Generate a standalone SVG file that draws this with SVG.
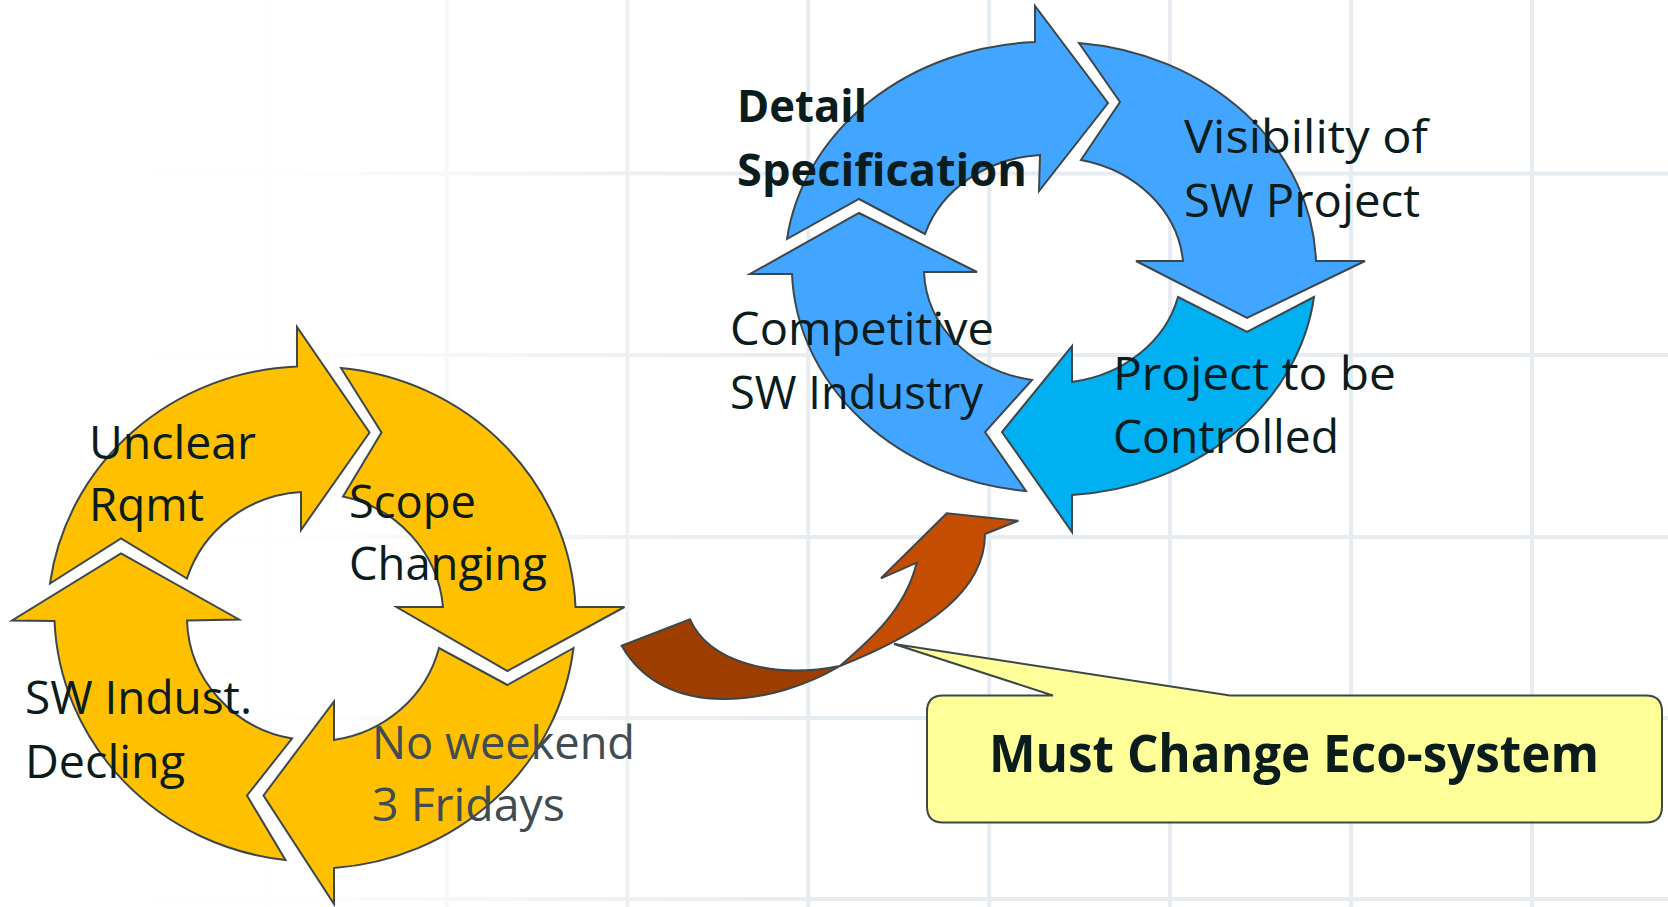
<svg xmlns="http://www.w3.org/2000/svg" width="1668" height="907" viewBox="0 0 1668 907">
<defs>
<linearGradient id="fade" gradientUnits="userSpaceOnUse" x1="0" y1="0" x2="820" y2="0">
<stop offset="0" stop-color="#ffffff" stop-opacity="1"/>
<stop offset="0.35" stop-color="#ffffff" stop-opacity="0.95"/>
<stop offset="0.55" stop-color="#ffffff" stop-opacity="0.6"/>
<stop offset="0.77" stop-color="#ffffff" stop-opacity="0.25"/>
<stop offset="1" stop-color="#ffffff" stop-opacity="0"/>
</linearGradient>
<style>
.grid line{stroke:#e7ecf0;stroke-width:4}
.sh{stroke:#3c474c;stroke-width:2;stroke-linejoin:miter}
.yel{fill:#ffc000}
.blu{fill:#42a5ff}
.cya{fill:#00b0f0}
.t{font-family:"Open Sans","Liberation Sans",sans-serif;fill:#0a1c1c}
.ty{font-size:45px}
.tb{font-size:46px}
.gray{fill:#404b52}
.bold{font-weight:bold}
</style>
</defs>
<rect width="1668" height="907" fill="#ffffff"/>
<g class="grid">
<line x1="265.6" y1="0" x2="265.6" y2="907"/>
<line x1="446.5" y1="0" x2="446.5" y2="907"/>
<line x1="627.4" y1="0" x2="627.4" y2="907"/>
<line x1="808.3" y1="0" x2="808.3" y2="907"/>
<line x1="989.2" y1="0" x2="989.2" y2="907"/>
<line x1="1170.1" y1="0" x2="1170.1" y2="907"/>
<line x1="1351" y1="0" x2="1351" y2="907"/>
<line x1="1531.9" y1="0" x2="1531.9" y2="907"/>
<line x1="0" y1="173.5" x2="1668" y2="173.5"/>
<line x1="0" y1="355" x2="1668" y2="355"/>
<line x1="0" y1="537" x2="1668" y2="537"/>
<line x1="0" y1="718" x2="1668" y2="718"/>
<line x1="0" y1="899" x2="1668" y2="899"/>
</g>
<rect width="1668" height="907" fill="url(#fade)"/>

<g id="y-unclear">
<path class="sh yel" d="M 50,583.5 L 121,538.5 L 187,578.5 A 128,124 0 0 1 301,492 L 301,530 L 369.5,432.5 L 297,327 L 297,366.5 A 260.5,251 0 0 0 50,583.5 Z"/>
<text class="t ty" x="89" y="458.5" textLength="167" lengthAdjust="spacingAndGlyphs">Unclear</text>
<text class="t ty" x="89" y="521" textLength="115" lengthAdjust="spacingAndGlyphs">Rqmt</text>
</g>
<g id="y-scope">
<path class="sh yel" d="M 341,368 L 381.5,432.5 L 343,496.5 A 128,124 0 0 1 443,607 L 396.5,607 L 507.5,671 L 624.5,607 L 575.5,607 A 260.5,251 0 0 0 341,368 Z"/>
<text class="t ty" x="349" y="517.5" textLength="127" lengthAdjust="spacingAndGlyphs">Scope</text>
<text class="t ty" x="349" y="579.5" textLength="198" lengthAdjust="spacingAndGlyphs">Changing</text>
</g>
<g id="y-weekend">
<path class="sh yel" d="M 573.5,648 L 507.5,685 L 439,648 A 128,124 0 0 1 334,740 L 334,701.5 L 263.5,795.5 L 334,904 L 334,868 A 260.5,251 0 0 0 573.5,648 Z"/>
<text class="t ty gray" x="372" y="759" textLength="263" lengthAdjust="spacingAndGlyphs">No weekend</text>
<text class="t ty gray" x="372" y="821" textLength="193" lengthAdjust="spacingAndGlyphs">3 Fridays</text>
</g>
<g id="y-indust">
<path class="sh yel" d="M 285.5,860 L 247,795.5 L 292,738.5 A 128,124 0 0 1 187,620.5 L 239,619.5 L 121,553.5 L 12,620.5 L 54.5,621 A 260.5,251 0 0 0 285.5,860 Z"/>
<text class="t ty" x="25" y="713.5" textLength="227" lengthAdjust="spacingAndGlyphs">SW Indust.</text>
<text class="t ty" x="25" y="777.5" textLength="160" lengthAdjust="spacingAndGlyphs">Decling</text>
</g>

<g id="b-detail">
<path class="sh blu" d="M 787,239 L 859,199 L 925,234 A 129.5,113.5 0 0 1 1040,155 L 1039,191 L 1108,103 L 1035,6 L 1035,42 A 262,226.5 0 0 0 787,239 Z"/>
<text class="t bold" font-size="44" x="737" y="121.7" textLength="130" lengthAdjust="spacingAndGlyphs">Detail</text>
<text class="t bold" font-size="44" x="737" y="186" textLength="290" lengthAdjust="spacingAndGlyphs">Specification</text>
</g>
<g id="b-visibility">
<path class="sh blu" d="M 1079,43 L 1120,102 L 1081,160 A 129.5,113.5 0 0 1 1183,261 L 1136,261 L 1247,318 L 1365,261 L 1316,261 A 262,226.5 0 0 0 1079,43 Z"/>
<text class="t tb" x="1184" y="153" textLength="244" lengthAdjust="spacingAndGlyphs">Visibility of</text>
<text class="t tb" x="1184" y="217" textLength="236" lengthAdjust="spacingAndGlyphs">SW Project</text>
</g>
<g id="b-controlled">
<path class="sh cya" d="M 1314,297 L 1247,332 L 1178,297 A 129.5,113.5 0 0 1 1072,382 L 1072,346 L 1002,432 L 1072,532 L 1072,495 A 262,226.5 0 0 0 1314,297 Z"/>
<text class="t tb" x="1113" y="390" textLength="283" lengthAdjust="spacingAndGlyphs">Project to be</text>
<text class="t tb" x="1113" y="453.3" textLength="226" lengthAdjust="spacingAndGlyphs">Controlled</text>
</g>
<g id="b-competitive">
<path class="sh blu" d="M 1026,491 L 985,432 L 1032,380 A 129.5,113.5 0 0 1 924,272 L 977,272 L 859,213 L 750,274 L 792,274 A 262,226.5 0 0 0 1026,491 Z"/>
<text class="t tb" x="730" y="345" textLength="264" lengthAdjust="spacingAndGlyphs">Competitive</text>
<text class="t tb" x="730" y="409.3" textLength="253" lengthAdjust="spacingAndGlyphs">SW Industry</text>
</g>

<g id="connectors">
<path class="sh" fill="#9e3d00" d="M 621.7,645.7 L 690,619.3 C 708,660 770,680 840,666 C 775,705 665,722 621.7,645.7 Z"/>
<path class="sh" fill="#c44d02" d="M 840,666 C 870,640 905,610 916.7,562.7 L 881,578.3 L 946.7,513.3 L 1018.3,520.7 L 985,534 C 985,590 930,630 840,666 Z"/>
</g>

<g id="callout">
<path class="sh" fill="#ffff99" d="M 943,695.5 H 1053 L 894,644 L 1230,695.5 H 1646 Q 1662,695.5 1662,711.5 V 806.5 Q 1662,822.5 1646,822.5 H 943 Q 927,822.5 927,806.5 V 711.5 Q 927,695.5 943,695.5 Z"/>
<text class="t bold" font-size="52" x="1294" y="772" text-anchor="middle" textLength="610" lengthAdjust="spacingAndGlyphs">Must Change Eco-system</text>
</g>
</svg>
